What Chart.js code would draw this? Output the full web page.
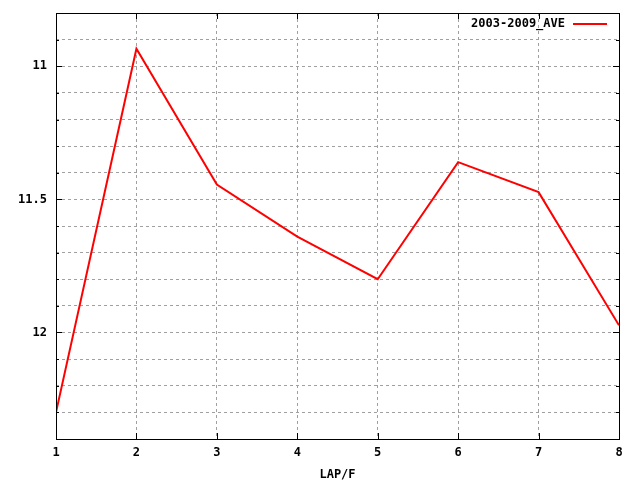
<!DOCTYPE html>
<html>
<head>
<meta charset="utf-8">
<script src="https://cdn.jsdelivr.net/npm/chart.js@4.4.0/dist/chart.umd.min.js"></script>
<style>
    html, body { margin: 0; padding: 0; background: #fff; }
    #wrap { width: 640px; height: 480px; }
</style>
</head>
<body>
<div id="wrap"><canvas id="chart" width="640" height="480"></canvas></div>
<script>
// Data
const laps = [1, 2, 3, 4, 5, 6, 7, 8];
const aveValues = [12.3, 10.934, 11.444, 11.64, 11.8, 11.36, 11.473, 11.973];
const seriesName = '2003-2009_AVE';
const yLabels = [11, 11.5, 12];
const xTitle = 'LAP/F';

const FONT = '"DejaVu Sans Mono", monospace';

// border, mirrored inward ticks, legend (gnuplot style)
const framePlugin = {
    id: 'frame',
    afterDraw(chart) {
        const ctx = chart.ctx;
        const a = chart.chartArea;
        const xs = chart.scales.x, ys = chart.scales.y;
        ctx.save();
        ctx.strokeStyle = '#000';
        ctx.lineWidth = 1;
        ctx.beginPath();
        ys.ticks.forEach(t => {
            const y = Math.round(ys.getPixelForValue(t.value)) + 0.5;
            const major = yLabels.some(v => Math.abs(v - t.value) < 1e-6);
            const len = major ? 6 : 3;
            ctx.moveTo(a.left, y); ctx.lineTo(a.left + len, y);
            ctx.moveTo(a.right, y); ctx.lineTo(a.right - len, y);
        });
        xs.ticks.forEach(t => {
            const x = Math.round(xs.getPixelForValue(t.value)) + 0.5;
            ctx.moveTo(x, a.bottom); ctx.lineTo(x, a.bottom - 6);
            ctx.moveTo(x, a.top); ctx.lineTo(x, a.top + 6);
        });
        ctx.stroke();
        ctx.strokeRect(Math.round(a.left) + 0.5, Math.round(a.top) + 0.5,
            Math.round(a.right - a.left), Math.round(a.bottom - a.top));

        // legend
        ctx.font = 'bold 12px ' + FONT;
        ctx.fillStyle = '#000';
        ctx.textAlign = 'right';
        ctx.textBaseline = 'middle';
        ctx.fillText(seriesName, 565, 24);
        ctx.strokeStyle = '#ff0000';
        ctx.lineWidth = 2;
        ctx.beginPath();
        ctx.moveTo(573, 24); ctx.lineTo(607, 24);
        ctx.stroke();
        ctx.restore();
    }
};

const ctx = document.getElementById('chart').getContext('2d');
const chart = new Chart(ctx, {
    type: 'line',
    data: {
        datasets: [{
            label: seriesName,
            data: laps.map((x, i) => ({ x: x, y: aveValues[i] })),
            borderColor: '#ff0000',
            borderWidth: 2,
            pointRadius: 0,
            tension: 0,
            fill: false
        }]
    },
    options: {
        responsive: false,
        animation: false,
        layout: { padding: { top: 13, right: 21, left: 0, bottom: 0 } },
        plugins: {
            legend: { display: false },
            tooltip: { enabled: false }
        },
        scales: {
            x: {
                type: 'linear',
                min: 1,
                max: 8,
                ticks: {
                    stepSize: 1,
                    padding: 7,
                    color: '#000',
                    font: { family: FONT, size: 12, weight: 'bold' },
                    maxRotation: 0
                },
                grid: {
                    color: '#a0a0a0',
                    drawTicks: false
                },
                border: { display: false, dash: [3, 3] },
                title: {
                    display: true,
                    text: xTitle,
                    color: '#000',
                    font: { family: FONT, size: 12, weight: 'bold' },
                    padding: { top: 6, bottom: -2 }
                },
                afterFit(scale) { scale.height = 41; scale.paddingLeft = 0; scale.paddingRight = 0; }
            },
            y: {
                type: 'linear',
                reverse: true,
                min: 10.8,
                max: 12.4,
                ticks: {
                    stepSize: 0.1,
                    padding: 9,
                    color: '#000',
                    font: { family: FONT, size: 12, weight: 'bold' },
                    autoSkip: false,
                    callback: v => {
                        const hit = yLabels.find(l => Math.abs(l - v) < 1e-6);
                        return hit === undefined ? '' : String(hit);
                    }
                },
                grid: {
                    color: '#a0a0a0',
                    drawTicks: false
                },
                border: { display: false, dash: [3, 3] },
                afterFit(scale) { scale.width = 56; scale.paddingTop = 0; scale.paddingBottom = 0; }
            }
        }
    },
    plugins: [framePlugin]
});
</script>
</body>
</html>
